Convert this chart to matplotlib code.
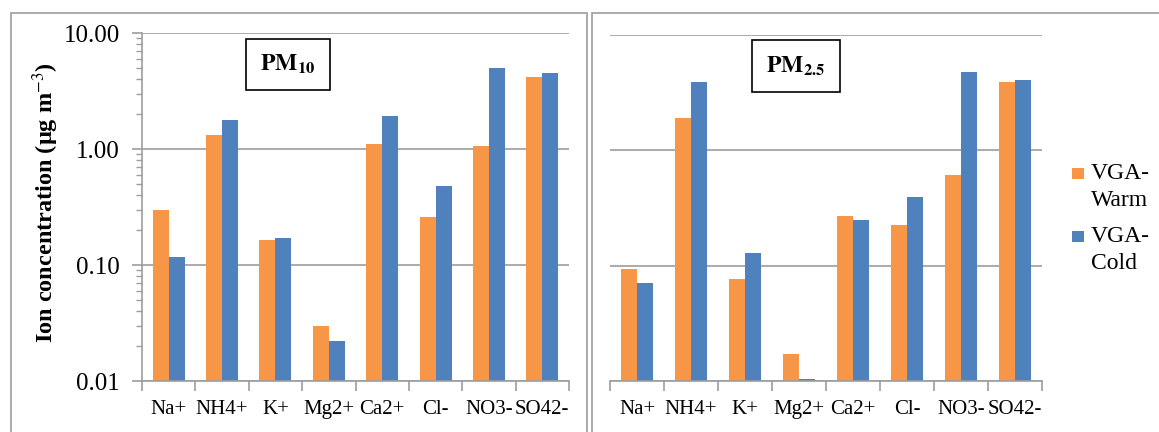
import numpy as np
import matplotlib
matplotlib.use("Agg")
import matplotlib.pyplot as plt
from matplotlib.patches import Rectangle
from matplotlib.ticker import FormatStrFormatter, LogLocator, NullFormatter

plt.rcParams["font.family"] = ["Liberation Serif", "DejaVu Serif"]
plt.rcParams["mathtext.fontset"] = "stix"

ions = ["Na+", "NH4+", "K+", "Mg2+", "Ca2+", "Cl-", "NO3-", "SO42-"]
pm10_warm = [0.30, 1.32, 0.165, 0.030, 1.10, 0.26, 1.07, 4.2]
pm10_cold = [0.117, 1.78, 0.172, 0.022, 1.93, 0.48, 5.0, 4.55]
pm25_warm = [0.094, 1.9, 0.077, 0.0171, 0.27, 0.225, 0.61, 3.95]
pm25_cold = [0.071, 3.95, 0.13, 0.0104, 0.25, 0.39, 4.8, 4.05]
series_names = [("VGA-", "Warm"), ("VGA-", "Cold")]

ORANGE = "#F79646"
BLUE = "#4F81BD"
GRID = "#9D9D9D"
W, H = 1159, 432

fig = plt.figure(figsize=(W / 100, H / 100), dpi=100)

# panel frames
fig.patches.append(Rectangle((11 / W, -0.05), (587 - 11) / W, 1.05 - 12.5 / H,
                             transform=fig.transFigure, fill=False,
                             edgecolor=GRID, linewidth=1.2))
fig.patches.append(Rectangle((592 / W, -0.05), 1.0, 1.05 - 13 / H,
                             transform=fig.transFigure, fill=False,
                             edgecolor=GRID, linewidth=1.2))


def draw_panel(rect, warm, cold, title, show_y):
    ax = fig.add_axes(rect)
    x = np.arange(len(ions))
    bw = 0.3
    ax.bar(x - bw / 2, warm, bw, color=ORANGE, bottom=0.0, zorder=3)
    ax.bar(x + bw / 2, cold, bw, color=BLUE, bottom=0.0, zorder=3)
    ax.set_yscale("log")
    ax.set_ylim(0.01, 10)
    ax.set_xlim(-0.5, len(ions) - 0.5)

    for s in ["top", "right"]:
        ax.spines[s].set_visible(False)
    ax.spines["bottom"].set_color(GRID)
    ax.spines["bottom"].set_linewidth(1.2)
    ax.spines["bottom"].set_zorder(4)
    ax.yaxis.grid(True, which="major", color=GRID, linewidth=1.2, zorder=0)

    # category ticks between groups, labels at centers
    ax.set_xticks(np.arange(-0.5, len(ions)), labels=[])
    ax.set_xticks(x, labels=ions, minor=True)
    ax.tick_params(axis="x", which="major", direction="out", length=7,
                   color=GRID, width=1.2)
    ax.tick_params(axis="x", which="minor", length=0, labelsize=15, pad=14)

    if show_y:
        ax.spines["left"].set_color(GRID)
        ax.spines["left"].set_linewidth(1.2)
        ax.yaxis.set_major_formatter(FormatStrFormatter("%.2f"))
        ax.yaxis.set_minor_locator(LogLocator(base=10, subs=np.arange(2, 10)))
        ax.yaxis.set_minor_formatter(NullFormatter())
        ax.tick_params(axis="y", which="major", direction="out", length=7,
                       color=GRID, width=1.2, labelsize=18, pad=9)
        ax.tick_params(axis="y", which="minor", direction="out", length=4,
                       color=GRID, width=1.0)
    else:
        ax.spines["left"].set_visible(False)
        ax.tick_params(axis="y", which="both", left=False, labelleft=False)

    ax.text(title[1], title[2], title[0], transform=ax.transAxes, ha="center",
            va="center", fontsize=17, fontweight="bold",
            bbox=dict(boxstyle="square,pad=0.6", facecolor="white",
                      edgecolor="black", linewidth=1.2), zorder=5)
    return ax


draw_panel([142 / W, 1 - 381 / H, (569 - 142) / W, (381 - 33) / H],
           pm10_warm, pm10_cold, (r"$\mathbf{PM_{10}}$", 0.342, 0.91), True)
draw_panel([610 / W, 1 - 381 / H, (1042 - 610) / W, (381 - 35) / H],
           pm25_warm, pm25_cold, (r"$\mathbf{PM_{2.5}}$", 0.43, 0.91), False)

fig.text(46 / W, 1 - 203 / H, "Ion concentration (µg m$^{-3}$)", rotation=90,
         ha="center", va="center", fontsize=17.5, fontweight="bold")

# legend drawn by hand so the square sits on the first text line
for i, (names, color) in enumerate(zip(series_names, [ORANGE, BLUE])):
    base = 179 + 63 * i
    fig.patches.append(Rectangle((1072 / W, 1 - base / H), 12 / W, 11 / H,
                                 transform=fig.transFigure, facecolor=color,
                                 edgecolor="none"))
    for j, line in enumerate(names):
        fig.text(1091 / W, 1 - (base + 27 * j) / H, line, ha="left",
                 va="baseline", fontsize=17)

fig.savefig("out.png", dpi=100)
